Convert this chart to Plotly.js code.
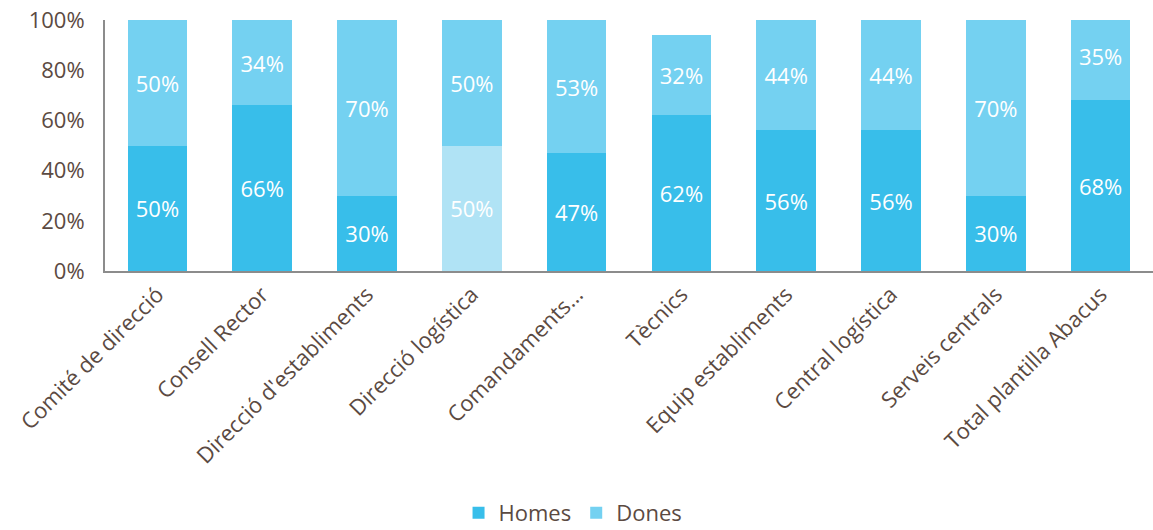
<!DOCTYPE html>
<html>
<head>
<meta charset="utf-8">
<script src="https://cdn.plot.ly/plotly-3.0.1.min.js"></script>
<style>html,body{margin:0;padding:0;background:#fff;}#chart{width:1153px;height:530px;}</style>
</head>
<body>
<div id="chart"></div>
<script>
const categories = ["Comité de direcció","Consell Rector","Direcció d'establiments","Direcció logística","Comandaments…","Tècnics","Equip establiments","Central logística","Serveis centrals","Total plantilla Abacus"];
const homes = [50, 66, 30, 50, 47, 62, 56, 56, 30, 68];
const dones = [50, 34, 70, 50, 53, 32, 44, 44, 70, 35];
const highlighted = [false, false, false, true, false, false, false, false, false, false];
const yTicks = [0, 20, 40, 60, 80, 100];
const yTickLabels = yTicks.map(v => v + '%');

const homesColor = '#38BEEA';
const homesLight = '#B0E3F5';
const donesColor = '#74D1F1';
const textColor = '#5B4A42';
const fontFam = 'Open Sans, sans-serif';

const homesColors = highlighted.map(h => h ? homesLight : homesColor);

function barTrace(name, vals, color) {
  return {
    type: 'bar', name: name, x: categories, y: vals,
    marker: {color: color, line: {width: 0}},
    text: vals.map(v => v + '%'),
    texttemplate: '%{text}', textposition: 'inside', insidetextanchor: 'middle',
    textangle: 0, constraintext: 'none',
    insidetextfont: {color: '#ffffff', size: 22, family: fontFam},
    hoverinfo: 'skip'
  };
}

const traces = [
  barTrace('Homes', homes, homesColors),
  barTrace('Dones', dones, donesColor)
];

const layout = {
  width: 1153, height: 530,
  margin: {l: 105, r: 0, t: 20, b: 259},
  barmode: 'stack',
  bargap: 0.43,
  paper_bgcolor: '#ffffff', plot_bgcolor: '#ffffff',
  font: {family: fontFam, color: textColor},
  xaxis: {
    type: 'category', tickangle: -45,
    tickfont: {size: 22, color: textColor},
    showline: true, linecolor: '#8C8C8C', linewidth: 2,
    ticks: '', showgrid: false, automargin: false
  },
  yaxis: {
    range: [0, 100], tickmode: 'array', tickvals: yTicks, ticktext: yTickLabels,
    tickfont: {size: 22, color: textColor},
    showline: true, linecolor: '#8C8C8C', linewidth: 2,
    showgrid: false, zeroline: false, ticks: '', ticklabelstandoff: 14, automargin: false
  },
  showlegend: true,
  legend: {
    orientation: 'h', x: 0.497, xanchor: 'center',
    xref: 'container', yref: 'container', y: 0.032, yanchor: 'middle',
    font: {size: 22, color: textColor}, traceorder: 'normal'
  }
};

Plotly.newPlot('chart', traces, layout, {displayModeBar: false, staticPlot: true});
</script>
</body>
</html>
